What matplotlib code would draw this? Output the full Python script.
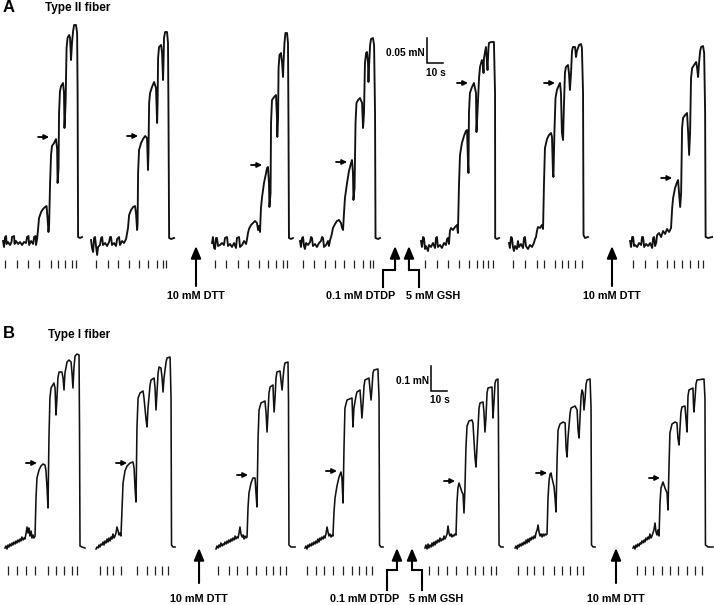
import matplotlib
matplotlib.use("Agg")
import matplotlib.pyplot as plt

plt.rcParams["font.family"] = ["Liberation Sans", "DejaVu Sans"]

# ---------------------------------------------------------------------------
# Panel A, type II fibre. Each trace: (time s from trace start, force mN above baseline)
A1 = [(0, .004), (0.6, -.008), (1.3, .012), (1.9, .014), (2.2, -.002), (3.1, .002), (4.4, -.004),
      (5.3, .002), (5.6, .012), (6.9, .014), (7.2, -.002), (8.1, .004), (9.4, -.002), (10.6, .002),
      (11.9, -.004), (13.1, .002), (14.4, 0), (15.0, .012), (15.9, .014), (16.3, -.004), (17.5, .004),
      (18.8, -.002), (19.4, .012), (20.3, .014), (20.6, -.004), (21.3, .008),
      (21.9, .028), (22.5, .05), (23.8, .062), (25.0, .068), (26.3, .072), (27.2, .074), (27.8, .05),
      (28.4, .022), (28.8, .036),
      (29.4, .12), (30.0, .176), (30.6, .194), (31.9, .2), (33.1, .208), (33.8, .188), (34.1, .12), (34.7, .15),
      (35.0, .26), (35.6, .304), (36.3, .314), (37.5, .32), (38.1, .3), (38.4, .23), (39.1, .28),
      (39.7, .39), (40.3, .41), (41.3, .416), (41.9, .41), (42.5, .366), (43.1, .4),
      (43.8, .424), (44.4, .436), (45.6, .436), (46.3, .42), (46.6, .3), (46.9, .012), (48.1, .01), (49.4, .012)]
A2 = [(0, .006), (0.6, -.01), (1.3, -.018), (1.9, .01), (2.5, .012), (3.1, -.006), (3.8, -.024), (4.4, -.008),
      (5.6, -.004), (6.3, .01), (6.9, .012), (7.5, -.004), (8.8, 0), (10.0, -.006), (11.3, .002), (11.9, .012),
      (12.5, .012), (13.1, -.004), (14.4, 0), (15.6, -.006), (16.3, .008), (17.5, .012), (18.1, -.004),
      (19.4, .004), (20.6, 0), (21.9, .008),
      (23.1, .03), (23.8, .056), (25.0, .066), (26.3, .072), (27.5, .074), (28.1, .06), (28.8, .026), (29.1, .04),
      (29.4, .14), (30.0, .186), (31.3, .2), (32.5, .208), (33.8, .214), (35.0, .21), (35.6, .146), (35.9, .18),
      (36.3, .28), (36.9, .3), (38.1, .312), (39.4, .322), (40.6, .31), (41.3, .24), (41.6, .28),
      (41.9, .37), (42.5, .392), (43.8, .396), (44.4, .38), (45.0, .326), (45.3, .36),
      (45.6, .41), (46.3, .422), (47.5, .422), (48.1, .4), (48.4, .26), (48.8, .01), (50.0, .008), (51.9, .01)]
A3 = [(0, 0), (0.6, .012), (1.3, -.01), (1.9, -.012), (2.5, .01), (3.1, .01), (3.8, -.006), (5.0, -.004),
      (6.3, 0), (7.5, -.004), (8.1, .01), (9.4, .012), (10.0, -.006), (11.3, -.002), (12.5, -.008), (13.8, 0),
      (15.0, -.01), (15.6, .01), (16.9, .012), (17.5, -.008), (18.8, -.004), (20.0, .004), (21.3, -.002),
      (21.9, .008),
      (22.5, .02), (23.1, .028), (24.4, .036), (25.6, .04), (26.9, .044), (28.1, .04), (28.8, .026), (29.4, .034),
      (30.0, .022), (30.6, .07), (31.3, .092), (32.5, .12), (33.8, .14), (34.4, .15), (35.0, .152), (35.6, .12),
      (35.9, .072), (36.6, .1),
      (36.9, .24), (37.5, .286), (38.8, .292), (40.0, .296), (40.6, .25), (40.8, .212), (41.3, .25),
      (41.6, .35), (42.2, .376), (43.1, .38), (43.8, .36), (44.4, .332), (44.7, .36),
      (45.3, .4), (45.9, .42), (46.9, .42), (47.5, .4), (47.8, .24), (48.1, .01), (49.4, .008), (50.6, .01)]
A4 = [(0, .004), (0.6, -.008), (1.3, .01), (1.9, .012), (2.5, -.006), (3.1, -.012), (3.8, 0), (5.0, -.004),
      (6.3, .002), (6.9, .012), (7.5, .01), (8.1, -.006), (9.4, -.002), (10.6, -.008), (11.9, 0), (13.1, .004),
      (13.8, .012), (14.4, .01), (15.0, -.008), (16.3, -.004), (17.5, .004), (18.1, -.006), (18.8, .006),
      (19.4, .012),
      (20.0, .02), (20.6, .03), (21.9, .038), (23.1, .044), (24.4, .046), (25.6, .04), (26.3, .03), (26.9, .026),
      (27.5, .06), (28.1, .09), (29.4, .12), (30.6, .144), (31.9, .16), (32.5, .166), (33.1, .14), (33.4, .086),
      (34.1, .11),
      (34.7, .24), (35.3, .28), (36.3, .286), (37.5, .29), (38.8, .28), (39.4, .23), (40.0, .26),
      (40.6, .36), (41.3, .38), (41.9, .382), (42.5, .36), (42.8, .322), (43.1, .35),
      (43.8, .396), (44.4, .408), (45.6, .41), (46.3, .396), (46.9, .26), (47.2, .01), (48.8, .008), (50.0, .01)]
A5 = [(0, .004), (0.6, -.008), (1.3, .012), (1.9, .01), (2.5, -.012), (3.1, -.006), (4.4, -.016), (5.0, -.004),
      (6.3, -.008), (7.5, 0), (8.8, -.01), (9.4, .01), (10.0, .012), (10.6, -.008), (11.9, -.004), (13.1, -.01),
      (14.4, 0), (15.6, -.004), (16.3, .008), (16.9, .01), (17.5, -.002),
      (18.1, .024), (18.8, .03), (20.0, .026), (21.3, .032), (22.5, .036), (23.1, .02),
      (23.8, .12), (24.4, .176), (25.6, .2), (26.9, .214), (28.1, .224), (28.8, .226), (29.4, .16), (29.7, .14),
      (30.0, .26), (30.6, .3), (31.9, .312), (33.1, .32), (34.4, .3), (34.7, .222), (35.3, .26),
      (36.3, .33), (36.9, .352), (38.1, .366), (38.8, .356), (39.1, .34), (39.4, .37), (40.6, .392), (41.3, .36),
      (41.6, .346), (42.2, .39),
      (42.5, .4), (43.8, .402), (45.6, .402), (46.3, .3), (46.4, .01), (47.5, .008), (48.8, .01)]
A6 = [(0, 0), (0.6, -.01), (1.3, .012), (1.9, .01), (2.5, -.008), (3.1, -.016), (3.8, -.006), (5.0, -.012),
      (5.6, .004), (6.3, -.008), (7.5, -.002), (8.8, -.01), (9.4, .01), (10.0, .012), (10.6, -.006),
      (11.9, -.012), (13.1, -.004), (14.4, -.008), (15.6, 0), (16.3, .008), (16.9, .012),
      (17.5, .024), (18.1, .032), (19.4, .03), (20.6, .036), (21.3, .028),
      (21.9, .12), (22.5, .19), (23.8, .208), (25.0, .216), (26.3, .22), (26.9, .212), (27.5, .14), (27.8, .132),
      (28.4, .22), (29.1, .29), (30.0, .306), (31.3, .316), (31.9, .32), (32.5, .3), (33.1, .22), (33.8, .206),
      (34.4, .28),
      (35.0, .34), (35.6, .352), (36.9, .356), (37.5, .34), (38.1, .306), (38.8, .34),
      (39.4, .384), (40.0, .392), (41.3, .392), (41.9, .372), (42.5, .384), (43.8, .396), (45.0, .398),
      (45.6, .39), (46.3, .3), (46.6, .016), (47.5, .01), (49.4, .012)]
A7 = [(0, .004), (0.6, -.008), (1.3, .012), (1.9, .012), (2.5, -.006), (3.1, -.004), (4.4, -.008), (5.6, 0),
      (6.9, -.004), (7.5, .012), (8.1, .012), (8.8, -.008), (10.0, -.002), (11.3, -.006), (12.5, 0),
      (13.8, -.01), (14.4, .01), (15.0, .012), (15.6, -.006), (16.3, 0),
      (16.9, .016), (18.1, .02), (19.4, .012), (20.6, .024), (21.9, .018), (23.1, .028), (24.4, .022), (25.6, .03),
      (26.3, .07), (26.9, .09), (28.1, .11), (29.4, .122), (30.0, .126), (30.6, .1), (31.3, .072), (31.9, .1),
      (32.5, .23), (33.1, .25), (34.4, .256), (35.6, .26), (36.3, .22), (36.9, .176), (37.5, .22),
      (38.1, .33), (38.8, .35), (40.0, .356), (41.3, .362), (41.9, .35), (42.5, .332), (43.1, .36),
      (43.8, .384), (44.4, .392), (45.6, .394), (46.3, .38), (46.9, .26), (47.2, .012), (48.8, .01), (51.3, .012)]
A_TRACES = [A1, A2, A3, A4, A5, A6, A7]

# solution changes (s from trace start)
A_TICKS = [[1.3, 8.6, 15.8, 22.7, 29.8, 34.6, 38.8, 42.9, 45.6],
           [3.1, 10.4, 17.1, 23.9, 30.2, 35.8, 41.1, 45.2, 46.7],
           [1.9, 8.8, 16.1, 22.7, 29.6, 35.2, 40.0, 44.6, 47.1],
           [2.1, 8.9, 15.6, 21.9, 27.7, 33.9, 39.6, 43.8, 45.8],
           [2.5, 9.8, 17.1, 23.9, 30.2, 35.2, 38.9, 42.1, 44.8],
           [2.7, 10.0, 17.3, 21.9, 28.8, 32.9, 37.1, 41.3, 45.4],
           [2.1, 9.4, 16.7, 22.9, 27.7, 32.3, 37.5, 42.7, 45.8]]
# force marked by the small arrow in each trace (s, mN)
A_MARKS = [(28.8, .212), (29.4, .214), (31.3, .156), (29.4, .162), (29.4, .32), (28.8, .32), (26.3, .13)]

# ---------------------------------------------------------------------------
# Panel B, type I fibre
B1 = [(0, 0), (0.6, .008), (1.3, -.004), (1.9, .012), (2.5, .004), (3.1, .016), (3.8, .008), (4.4, .02),
      (5.0, .012), (5.6, .024), (6.3, .016), (6.9, .028), (7.5, .02), (8.1, .032), (8.8, .024), (9.4, .036),
      (10.0, .028), (10.6, .044), (11.3, .032), (11.9, .04), (12.5, .036),
      (13.1, .056), (13.8, .084), (14.4, .06), (15.0, .08), (15.6, .048), (16.3, .068), (16.9, .04), (17.5, .052),
      (18.1, .04), (18.8, .048),
      (19.4, .2), (20.0, .28), (21.3, .312), (22.5, .328), (23.8, .336), (25.0, .332), (25.6, .312), (26.3, .24),
      (26.9, .16),
      (27.5, .44), (28.1, .6), (28.8, .64), (30.6, .66), (31.3, .64), (31.9, .532), (32.5, .6),
      (33.1, .68), (33.8, .704), (35.6, .704), (36.3, .68), (36.9, .632), (37.5, .7),
      (38.8, .744), (40.0, .752), (41.3, .744), (41.9, .7), (42.5, .64), (43.1, .72),
      (43.8, .768), (45.0, .776), (46.3, .772), (46.6, .48), (46.9, .008), (48.1, .004), (50.0, 0)]
B2 = [(0, -.004), (0.6, .004), (1.3, 0), (1.9, .012), (2.5, .004), (3.1, .016), (3.8, .012), (4.4, .024),
      (5.0, .012), (5.6, .028), (6.3, .02), (6.9, .036), (7.5, .024), (8.1, .04), (8.8, .028), (9.4, .044),
      (10.0, .036), (10.6, .056), (11.3, .04), (11.9, .048),
      (12.5, .06), (13.1, .084), (13.8, .068), (14.4, .052), (15.0, .06), (15.6, .048),
      (16.3, .16), (16.9, .26), (18.1, .308), (19.4, .328), (21.3, .34), (23.1, .344), (23.8, .32), (24.4, .24),
      (25.0, .184),
      (25.6, .48), (26.3, .6), (27.5, .62), (29.4, .628), (30.0, .6), (31.3, .512), (31.9, .484), (32.5, .56),
      (33.8, .652), (34.4, .672), (36.3, .68), (36.9, .64), (37.5, .552), (38.1, .62),
      (38.8, .7), (39.4, .724), (40.6, .72), (41.3, .68), (41.9, .624), (42.5, .68),
      (43.8, .744), (44.4, .76), (46.3, .764), (46.9, .6), (47.2, .012), (48.1, .004), (49.4, .004)]
B3 = [(0, -.004), (0.6, .008), (1.3, 0), (1.9, .012), (2.5, .004), (3.1, .02), (3.8, .008), (4.4, .016),
      (5.0, .012), (5.6, .024), (6.3, .016), (6.9, .028), (7.5, .02), (8.1, .032), (8.8, .024), (9.4, .036),
      (10.0, .028), (10.6, .04), (11.3, .032), (11.9, .048), (12.5, .036), (13.1, .044), (13.8, .04),
      (14.4, .06), (15.0, .084), (15.6, .056), (16.3, .044), (16.9, .052), (17.5, .036), (18.1, .048),
      (18.8, .04), (19.4, .044),
      (20.0, .16), (20.6, .22), (21.9, .26), (23.1, .28), (24.4, .28), (25.0, .22), (25.6, .164),
      (26.3, .44), (26.9, .552), (28.1, .58), (30.6, .588), (31.3, .54), (31.9, .464), (32.5, .54),
      (33.1, .62), (33.8, .644), (35.6, .652), (35.9, .6), (36.3, .544), (36.9, .6),
      (37.5, .68), (38.1, .704), (40.0, .708), (40.6, .672), (41.3, .632), (41.9, .68),
      (42.5, .72), (43.1, .74), (45.0, .744), (45.3, .6), (45.6, .012), (46.9, .004), (49.4, .004)]
B4 = [(0, 0), (0.6, .008), (1.3, -.004), (1.9, .012), (2.5, .004), (3.1, .016), (3.8, .008), (4.4, .02),
      (5.0, .012), (5.6, .024), (6.3, .016), (6.9, .028), (7.5, .02), (8.1, .036), (8.8, .024), (9.4, .04),
      (10.0, .032), (10.6, .044), (11.3, .036), (11.9, .048), (12.5, .04),
      (13.1, .056), (13.8, .084), (14.4, .064), (15.0, .048), (15.6, .056), (16.3, .044), (16.9, .052),
      (17.5, .048),
      (18.1, .14), (18.8, .2), (20.0, .248), (21.3, .284), (22.5, .304), (23.1, .28), (23.8, .18),
      (24.4, .4), (25.0, .56), (26.3, .592), (29.4, .6), (30.0, .484), (30.6, .56),
      (31.9, .608), (32.5, .624), (34.4, .632), (35.0, .58), (35.6, .52), (36.3, .58),
      (36.9, .648), (37.5, .672), (40.0, .68), (40.6, .64), (41.3, .592), (41.9, .64),
      (42.5, .7), (43.1, .712), (45.6, .716), (46.3, .6), (46.6, .012), (47.5, .004), (48.8, .004)]
B5 = [(0, 0), (0.6, .012), (1.3, -.004), (1.9, .016), (2.5, 0), (3.1, .012), (3.8, .004), (4.4, .02),
      (5.0, .008), (5.6, .024), (6.3, .012), (6.9, .028), (7.5, .02), (8.1, .032), (8.8, .024), (9.4, .04),
      (10.0, .028), (10.6, .036), (11.3, .032), (11.9, .048), (12.5, .036), (13.1, .044),
      (13.8, .056), (14.4, .088), (15.0, .06), (15.6, .048), (16.3, .056), (16.9, .044), (17.5, .052),
      (18.1, .048), (18.8, .056), (19.4, .052),
      (20.0, .18), (20.6, .24), (21.3, .26), (21.9, .248), (23.1, .224), (23.8, .216), (24.4, .14),
      (25.0, .24), (25.6, .4), (26.3, .488), (27.5, .508), (29.4, .512), (30.0, .5), (31.3, .36), (31.9, .324),
      (32.5, .4),
      (33.8, .56), (34.4, .58), (36.3, .584), (36.9, .54), (37.5, .464), (38.1, .52),
      (38.8, .62), (39.4, .64), (41.9, .644), (42.2, .58), (42.5, .52), (43.1, .58),
      (43.8, .66), (44.4, .672), (45.6, .676), (45.9, .52), (46.3, .012), (47.5, .004), (48.8, .004)]
B6 = [(0, 0), (0.6, .008), (1.3, -.004), (1.9, .012), (2.5, .004), (3.1, .016), (3.8, .008), (4.4, .02),
      (5.0, .012), (5.6, .024), (6.3, .016), (6.9, .032), (7.5, .02), (8.1, .036), (8.8, .024), (9.4, .04),
      (10.0, .032), (10.6, .044), (11.3, .036), (11.9, .048), (12.5, .04),
      (13.1, .06), (13.8, .072), (14.4, .092), (15.0, .064), (15.6, .048), (16.3, .056), (16.9, .044),
      (17.5, .056), (18.1, .048), (18.8, .056), (19.4, .052), (20.0, .056),
      (20.6, .2), (21.3, .272), (21.9, .296), (22.5, .3), (23.1, .28), (24.4, .244), (25.0, .2), (25.6, .144),
      (26.3, .36), (26.9, .472), (28.1, .496), (30.0, .504), (31.3, .5), (31.9, .4), (32.5, .364), (33.1, .44),
      (34.4, .54), (35.0, .56), (37.5, .568), (38.8, .552), (39.4, .472), (40.0, .44), (40.6, .52),
      (41.3, .608), (41.9, .632), (42.5, .62), (43.1, .552), (43.8, .6),
      (44.4, .656), (45.0, .672), (46.9, .676), (47.5, .56), (47.8, .012), (48.8, .004), (50.0, .004)]
B7 = [(0, 0), (0.6, .008), (1.3, -.004), (1.9, .012), (2.5, .004), (3.1, .016), (3.8, .008), (4.4, .02),
      (5.0, .016), (5.6, .028), (6.3, .02), (6.9, .032), (7.5, .024), (8.1, .04), (8.8, .032), (9.4, .044),
      (10.0, .036), (10.6, .056), (11.3, .04), (11.9, .048),
      (12.5, .06), (13.1, .072), (13.8, .1), (14.4, .064), (15.0, .052), (15.6, .072), (16.3, .048),
      (16.9, .18), (17.5, .24), (18.8, .264), (20.0, .24), (21.3, .22), (21.9, .152),
      (22.5, .32), (23.1, .46), (24.4, .496), (26.3, .504), (27.5, .5), (28.1, .44), (28.8, .412), (29.4, .48),
      (30.0, .544), (30.6, .564), (32.5, .568), (33.1, .52), (33.8, .464), (34.1, .54),
      (34.4, .608), (35.0, .632), (37.5, .64), (37.8, .58), (38.1, .544), (38.8, .6),
      (39.4, .656), (40.0, .672), (44.4, .676), (45.0, .6), (45.3, .012), (46.9, .004), (50.0, .004)]
B_TRACES = [B1, B2, B3, B4, B5, B6, B7]

B_TICKS = [[2.1, 7.7, 13.1, 18.8, 27.1, 31.9, 36.9, 41.7, 44.8],
           [2.5, 6.7, 10.8, 15.4, 25.4, 31.7, 36.9, 41.1, 45.2],
           [1.4, 8.3, 13.3, 19.6, 25.0, 31.3, 35.4, 40.0, 43.8],
           [1.4, 6.9, 11.9, 17.3, 23.6, 29.2, 33.9, 38.1, 41.7],
           [2.7, 8.3, 13.6, 19.4, 26.1, 31.3, 36.4, 41.1, 44.4],
           [2.1, 7.3, 11.9, 17.7, 24.4, 29.6, 34.4, 38.9, 42.3],
           [2.3, 7.5, 12.7, 17.9, 23.1, 28.3, 33.6, 38.8, 42.9]]
B_MARKS = [(20.0, .34), (19.4, .34), (20.0, .292), (20.0, .308), (18.8, .268), (20.0, .3), (16.9, .28)]

# ---------------------------------------------------------------------------
# layout (seconds along each panel, mN relative to the baseline)
A_START = [1.9, 56.9, 132.5, 187.5, 263.1, 318.1, 393.8]
B_START = [3.1, 60.0, 135.0, 190.6, 265.6, 321.9, 395.6]

W, H = 714, 605
fig = plt.figure(figsize=(W / 100, H / 100), dpi=100)
axA = fig.add_axes([0, 1 - 300 / H, 1, 300 / H])
axB = fig.add_axes([0, 0, 1, 305 / H])
axA.set_xlim(0, W / 1.6)
axA.set_ylim(-0.114, 0.486)
axB.set_xlim(0, W / 1.6)
axB.set_ylim(-0.228, 0.992)
for ax in (axA, axB):
    ax.axis("off")


def draw_panel(ax, traces, starts, ticks, marks, tick_y, lw):
    for tr, t0, tk, mk in zip(traces, starts, ticks, marks):
        ax.plot([t0 + t for t, f in tr], [f for t, f in tr], color="#111111", lw=lw,
                solid_joinstyle="round")
        ax.vlines([t0 + t for t in tk], tick_y[0], tick_y[1], color="#222222", lw=0.9)
        ax.annotate("", xy=(t0 + mk[0], mk[1]), xytext=(t0 + mk[0] - 6.9, mk[1]),
                    arrowprops=dict(arrowstyle="-|>", color="black", lw=1.3,
                                    mutation_scale=7, shrinkA=0, shrinkB=0))


draw_panel(axA, A_TRACES, A_START, A_TICKS, A_MARKS, (-0.034, -0.05), 1.35)
draw_panel(axB, B_TRACES, B_START, B_TICKS, B_MARKS, (-0.072, -0.108), 1.15)


def up_arrow(ax, x, y0, y1):
    ax.annotate("", xy=(x, y1), xytext=(x, y0),
                arrowprops=dict(arrowstyle="-|>,head_width=0.25,head_length=0.6", color="black",
                                lw=1.5, mutation_scale=12, shrinkA=0, shrinkB=0))


def treatments(ax, dtt1, dtdp, gsh, dtt2, head, mid, foot, label_y, dtt_foot):
    up_arrow(ax, dtt1, dtt_foot, head)
    up_arrow(ax, dtt2, dtt_foot, head)
    # DTDP and GSH arrows have a step in their shaft
    ax.plot([dtdp[1], dtdp[1], dtdp[0]], [foot, mid, mid], color="black", lw=1.5,
            solid_joinstyle="miter")
    up_arrow(ax, dtdp[0], mid, head)
    ax.plot([gsh[1], gsh[1], gsh[0]], [foot, mid, mid], color="black", lw=1.5,
            solid_joinstyle="miter")
    up_arrow(ax, gsh[0], mid, head)
    kw = dict(fontsize=7.8, fontweight="bold", ha="center", va="center")
    ax.text(dtt1, label_y, "10 mM DTT", **kw)
    ax.text(dtt2, label_y, "10 mM DTT", **kw)
    ax.text(dtdp[1] - 14, label_y, "0.1 mM DTDP", **kw)
    ax.text(gsh[1] + 9, label_y, "5 mM GSH", **kw)


treatments(axA, 122.5, (246.9, 239.4), (255.6, 261.9), 382.5,
           -0.006, -0.054, -0.088, -0.106, -0.086)
treatments(axB, 124.4, (248.1, 241.9), (257.5, 263.8), 385.0,
           0.0, -0.088, -0.168, -0.204, -0.14)


def scale_bar(ax, x, y, dy, label, pad_x, pad_y):
    ax.plot([x, x, x + 10], [y + dy, y, y], color="black", lw=1.1, solid_joinstyle="miter")
    ax.text(x - pad_x, y + dy * 0.4, label, fontsize=7.3, fontweight="bold", ha="right", va="center")
    ax.text(x + 5.5, y - pad_y, "10 s", fontsize=7.3, fontweight="bold", ha="center", va="center")


scale_bar(axA, 266.9, 0.36, 0.05, "0.05 mN", 1.5, 0.02)
scale_bar(axB, 269.4, 0.628, 0.1, "0.1 mN", 1.5, 0.036)

fig.text(3 / W, 1 - 8 / H, "A", fontsize=12, fontweight="bold", ha="left", va="center")
fig.text(45 / W, 1 - 8 / H, "Type II fiber", fontsize=8.5, fontweight="bold", ha="left", va="center")
fig.text(3 / W, 1 - 334 / H, "B", fontsize=12, fontweight="bold", ha="left", va="center")
fig.text(48 / W, 1 - 335 / H, "Type I fiber", fontsize=8.5, fontweight="bold", ha="left", va="center")

fig.savefig("out.png", dpi=100)
